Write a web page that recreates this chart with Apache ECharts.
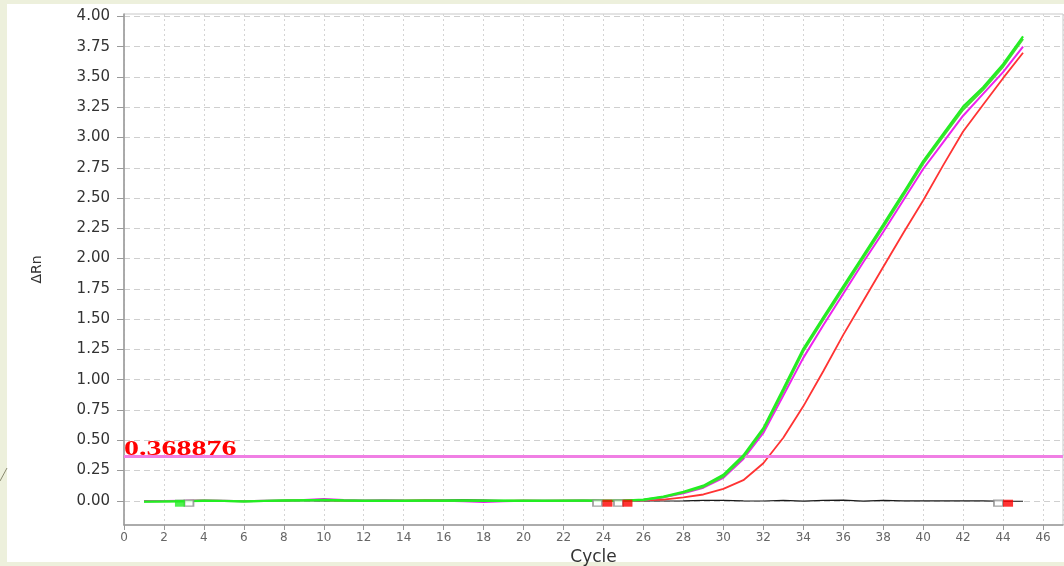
<!DOCTYPE html>
<html><head><meta charset="utf-8">
<script src="https://cdn.jsdelivr.net/npm/echarts@6/dist/echarts.min.js"></script>
<style>html,body{margin:0;padding:0;background:#edf0dc}#c{width:1064px;height:566px}</style>
</head><body><div id="c"></div>
<script>
const cycles = [1,2,3,4,5,6,7,8,9,10,11,12,13,14,15,16,17,18,19,20,21,22,23,24,25,26,27,28,29,30,31,32,33,34,35,36,37,38,39,40,41,42,43,44,45];
const greenA = [-0.008,-0.006,-0.004,0.000,-0.002,-0.006,-0.002,0.002,0.004,0.008,0.003,0.000,0.001,0.000,0.002,0.001,0.002,0.000,0.001,0.000,0.000,0.001,0.002,0.000,0.002,0.010,0.035,0.075,0.125,0.215,0.375,0.600,0.925,1.255,1.515,1.770,2.025,2.280,2.540,2.805,3.030,3.255,3.415,3.605,3.835];
const greenB = [-0.006,-0.005,-0.003,0.001,-0.001,-0.005,-0.001,0.003,0.006,0.006,0.002,0.001,0.000,0.001,0.001,0.000,0.001,0.001,0.000,0.001,0.001,0.000,0.001,0.001,0.001,0.008,0.030,0.068,0.115,0.200,0.360,0.585,0.905,1.235,1.495,1.750,2.005,2.260,2.520,2.785,3.010,3.230,3.395,3.585,3.815];
const magenta = [-0.004,-0.002,0.000,0.002,0.000,-0.003,0.000,0.003,0.006,0.014,0.006,0.002,0.004,0.002,0.001,0.000,-0.004,-0.010,-0.004,0.000,0.001,0.000,0.002,0.001,0.002,0.007,0.028,0.062,0.108,0.190,0.345,0.560,0.870,1.180,1.450,1.710,1.970,2.220,2.480,2.740,2.960,3.180,3.360,3.540,3.750];
const red = [-0.003,-0.002,0.000,0.001,0.000,-0.002,0.000,0.002,0.008,0.006,0.002,0.000,0.001,0.002,0.006,0.002,0.000,-0.002,0.000,0.001,0.000,0.001,0.002,0.000,0.001,0.003,0.010,0.028,0.052,0.098,0.170,0.310,0.520,0.780,1.070,1.370,1.650,1.930,2.210,2.480,2.770,3.050,3.270,3.490,3.700];
const black = [0.000,0.002,0.000,-0.002,0.000,0.001,0.000,0.002,0.001,0.000,0.001,0.002,0.000,0.001,0.003,0.006,0.008,0.005,0.002,0.000,0.001,0.000,0.001,0.000,0.001,0.000,-0.002,0.000,0.003,0.004,0.000,-0.002,0.004,-0.003,0.004,0.005,-0.003,0.004,-0.001,0.000,0.000,0.000,-0.001,-0.004,-0.004];
const threshold = 0.368876;
const yTickValues = [0,0.25,0.5,0.75,1,1.25,1.5,1.75,2,2.25,2.5,2.75,3,3.25,3.5,3.75,4];
const greenMarkers = [[2.8,-0.02]];
const openMarkers = [[3.25,-0.02],[23.7,-0.02],[24.75,-0.02],[43.77,-0.02]];
const redMarkers = [[24.2,-0.02],[25.2,-0.02],[44.25,-0.02]];

const pair = arr => cycles.map((c,i)=>[c,arr[i]]);
const font = 'DejaVu Sans';
const chart = echarts.init(document.getElementById('c'));
function lineSeries(name, arr, color, width, z){
  return {name, type:'line', data:pair(arr), showSymbol:false, symbol:'none', z,
    lineStyle:{color, width}, itemStyle:{color}, animation:false};
}
const panel = {type:'rect', left:7, top:4, shape:{width:1057, height:558}, style:{fill:'#ffffff'}, z:-100, silent:true};
const deco = {type:'line', shape:{x1:0,y1:481,x2:7,y2:468}, style:{stroke:'#8a8a70', lineWidth:1}, z:-100, silent:true};
chart.setOption({
  animation:false,
  backgroundColor:'#edf0dc',
  graphic:[panel, deco],
  grid:{left:124, right:1, top:14, bottom:41, outerBoundsMode:'none', containLabel:false, show:true, borderColor:'#c8c8c8', borderWidth:1, backgroundColor:'transparent'},
  xAxis:{type:'value', min:0, max:47, interval:2,
    axisLine:{show:true, onZero:false, lineStyle:{color:'#999', width:1.5}},
    axisTick:{show:true, length:5, lineStyle:{color:'#999'}},
    axisLabel:{showMaxLabel:false, formatter:v=> (v%2===0 ? String(v) : ''), color:'#666', fontFamily:font, fontSize:12, margin:7},
    splitLine:{show:true, lineStyle:{color:'#d4d4d4', type:[2,3]}},
    name:'Cycle', nameLocation:'middle', nameGap:21, nameTextStyle:{fontFamily:font, fontSize:17, color:'#333'}},
  yAxis:{type:'value', min:-0.2, max:4.02,
    axisLine:{show:true, onZero:false, lineStyle:{color:'#999', width:1.5}},
    axisTick:{show:true, length:7, customValues:yTickValues, lineStyle:{color:'#999'}},
    axisLabel:{customValues:yTickValues, formatter:v=>v.toFixed(2), color:'#333', fontFamily:font, fontSize:15, margin:14},
    splitLine:{show:true, lineStyle:{color:'#cfcfcf', type:[6,4]}},
    name:'ΔRn', nameLocation:'middle', nameGap:80, nameRotate:90, nameTextStyle:{fontFamily:font, fontSize:14, color:'#333'}},
  series:[
    Object.assign(lineSeries('black', black, '#1a1a1a', 1.2, 2), {
      markLine:{silent:true, symbol:'none', label:{show:false}, animation:false,
        lineStyle:{color:'#f07fe4', width:3, type:'solid'}, data:[{yAxis:threshold}]}}),
    lineSeries('red', red, '#ff3333', 1.8, 3),
    lineSeries('magenta', magenta, '#ee22ee', 2, 4),
    lineSeries('greenB', greenB, '#44dd33', 2.2, 5),
    lineSeries('greenA', greenA, '#22ee22', 2.2, 6),
    {type:'scatter', data:openMarkers, symbol:'rect', symbolSize:[9,6], z:10, animation:false,
      itemStyle:{color:'#ffffff', borderColor:'#8c8c8c', borderWidth:1.5}},
    {type:'scatter', data:greenMarkers, symbol:'rect', symbolSize:[10,7], z:11, animation:false, itemStyle:{color:'#22ee22'}},
    {type:'scatter', data:redMarkers, symbol:'rect', symbolSize:[10,7], z:11, animation:false, itemStyle:{color:'#ff0000'}}
  ]
});
const p = chart.convertToPixel({xAxisIndex:0, yAxisIndex:0}, [0, threshold]);
chart.setOption({graphic:[panel, deco, {type:'text', x:p[0], y:p[1]+4, scaleX:1.5, z:50, silent:true,
  style:{text:String(threshold), font:'bold 20px "Liberation Serif"', fill:'#ff0000',
    textAlign:'left', textVerticalAlign:'bottom', align:'left', verticalAlign:'bottom'}}]});
</script></body></html>
